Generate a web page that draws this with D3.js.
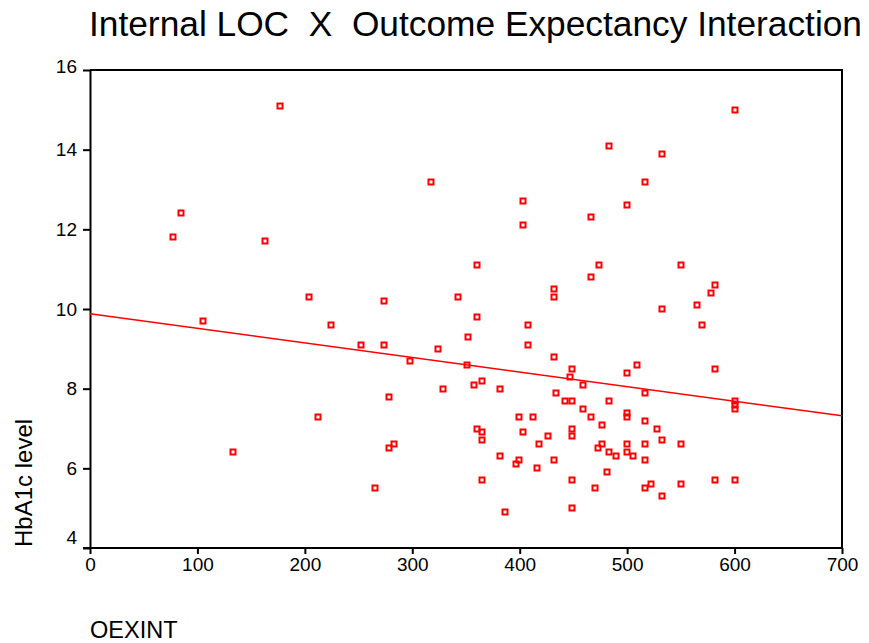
<!DOCTYPE html>
<html>
<head>
<meta charset="utf-8">
<script src="https://cdn.jsdelivr.net/npm/d3@7"></script>
<style>
  body { margin: 0; background: #fff; }
  text { font-family: "Liberation Sans", Arial, sans-serif; fill: #000; }
</style>
</head>
<body>
<script>
// OEXINT values (x) and HbA1c levels (y)
var oexint = [77, 85, 177, 163, 204, 105, 133, 212, 224, 252, 274, 274, 298, 278, 278, 283, 265,
  317, 324, 329, 343, 352, 351, 360, 360, 357, 365, 360, 365, 365, 365, 382, 382, 386,
  399, 397, 399, 403, 403, 403, 408, 408, 412, 416, 418, 426, 432, 432, 432, 434, 432,
  442, 447, 449, 449, 449, 449, 449, 449, 459, 459, 466, 466, 466, 470, 474, 473, 477,
  477, 481, 483, 483, 483, 490, 500, 500, 500, 500, 500, 500, 505, 509, 517, 517, 517,
  517, 517, 517, 522, 528, 532, 532, 532, 532, 550, 550, 550, 565, 570, 578, 582, 582,
  582, 600, 600, 600, 600, 600];
var hba1c = [11.8, 12.4, 15.1, 11.7, 10.3, 9.7, 6.4, 7.3, 9.6, 9.1, 10.2, 9.1, 8.7, 7.8, 6.5, 6.6, 5.5,
  13.2, 9.0, 8.0, 10.3, 9.3, 8.6, 11.1, 9.8, 8.1, 8.2, 7.0, 6.9, 6.7, 5.7, 8.0, 6.3, 4.9,
  7.3, 6.1, 6.2, 12.7, 12.1, 6.9, 9.6, 9.1, 7.3, 6.0, 6.6, 6.8, 10.5, 10.3, 8.8, 7.9, 6.2,
  7.7, 8.3, 8.5, 7.7, 7.0, 6.8, 5.7, 5.0, 8.1, 7.5, 12.3, 10.8, 7.3, 5.5, 11.1, 6.5, 7.1,
  6.6, 5.9, 14.1, 7.7, 6.4, 6.3, 12.6, 8.4, 7.4, 7.3, 6.6, 6.4, 6.3, 8.6, 13.2, 7.9, 7.2,
  6.6, 6.2, 5.5, 5.6, 7.0, 13.9, 10.0, 6.7, 5.3, 11.1, 6.6, 5.6, 10.1, 9.6, 10.4, 10.6, 8.5,
  5.7, 15.0, 7.7, 7.6, 7.5, 5.7];

// fitted regression line end points
var fitX = [0, 700];
var fitY = [9.88, 7.32];

var xTicks = [0, 100, 200, 300, 400, 500, 600, 700];
var yTicks = [4, 6, 8, 10, 12, 14, 16];

var margin = {top: 70, right: 27, bottom: 95, left: 90},
    width = 869 - margin.left - margin.right,
    height = 643 - margin.top - margin.bottom;

var svg = d3.select("body").append("svg")
    .attr("width", 869)
    .attr("height", 643);

var g = svg.append("g")
    .attr("transform", "translate(" + margin.left + "," + margin.top + ")");

var xScale = d3.scaleLinear().domain([0, 700]).range([0, width]);
var yScale = d3.scaleLinear().domain([4, 16]).range([height, 0]);

// title (double spaces kept)
svg.append("text")
    .attr("x", 89)
    .attr("y", 36)
    .style("font-size", "35.3px")
    .style("white-space", "pre")
    .attr("xml:space", "preserve")
    .text("Internal LOC  X  Outcome Expectancy Interaction");

// frame (top + right)
g.append("path")
    .attr("d", "M0,0H" + width + "V" + height)
    .attr("fill", "none")
    .attr("stroke", "#000")
    .attr("stroke-width", 2);

// x axis
var xAxis = g.append("g")
    .attr("transform", "translate(0," + height + ")")
    .call(d3.axisBottom(xScale).tickValues(xTicks).tickSize(6).tickPadding(4).tickSizeOuter(0));

// y axis
var yAxis = g.append("g")
    .call(d3.axisLeft(yScale).tickValues(yTicks).tickSize(7).tickPadding(6).tickSizeOuter(0));

[xAxis, yAxis].forEach(function(a) {
    a.select(".domain").attr("stroke", "#000").attr("stroke-width", 2);
    a.selectAll(".tick line").attr("stroke", "#000").attr("stroke-width", 2);
    a.selectAll(".tick text")
        .style("font-size", "19px")
        .style("font-family", "'Liberation Sans', Arial, sans-serif")
        .attr("fill", "#000");
});
// the x axis line reaches past the y axis to meet the "4" tick
xAxis.select(".domain").attr("d", "M-7,0H" + width);
// bottom y label sits a bit higher
yAxis.selectAll(".tick text").filter(function(d) { return d === 4; }).attr("dy", "-0.25em");
yAxis.selectAll(".tick text").filter(function(d) { return d === 16; }).attr("dy", "0.15em");

// regression line
g.append("line")
    .attr("x1", xScale(fitX[0]))
    .attr("y1", yScale(fitY[0]))
    .attr("x2", xScale(fitX[1]))
    .attr("y2", yScale(fitY[1]))
    .attr("stroke", "#ff0000")
    .attr("stroke-width", 1.5);

// points
var pts = d3.range(oexint.length).map(function(i) { return {x: oexint[i], y: hba1c[i]}; });
g.selectAll(".pt")
    .data(pts)
    .enter().append("rect")
    .attr("class", "pt")
    .attr("x", function(d) { return Math.round(xScale(d.x)) - 2.5; })
    .attr("y", function(d) { return Math.round(yScale(d.y)) - 2.5; })
    .attr("width", 5)
    .attr("height", 5)
    .attr("fill", "none")
    .attr("stroke", "#ff0000")
    .attr("stroke-width", 2);

// axis titles
svg.append("text")
    .attr("transform", "translate(32,547) rotate(-90)")
    .style("font-size", "24px")
    .text("HbA1c level");

svg.append("text")
    .attr("x", 90)
    .attr("y", 638)
    .style("font-size", "23.5px")
    .text("OEXINT");
</script>
</body>
</html>
